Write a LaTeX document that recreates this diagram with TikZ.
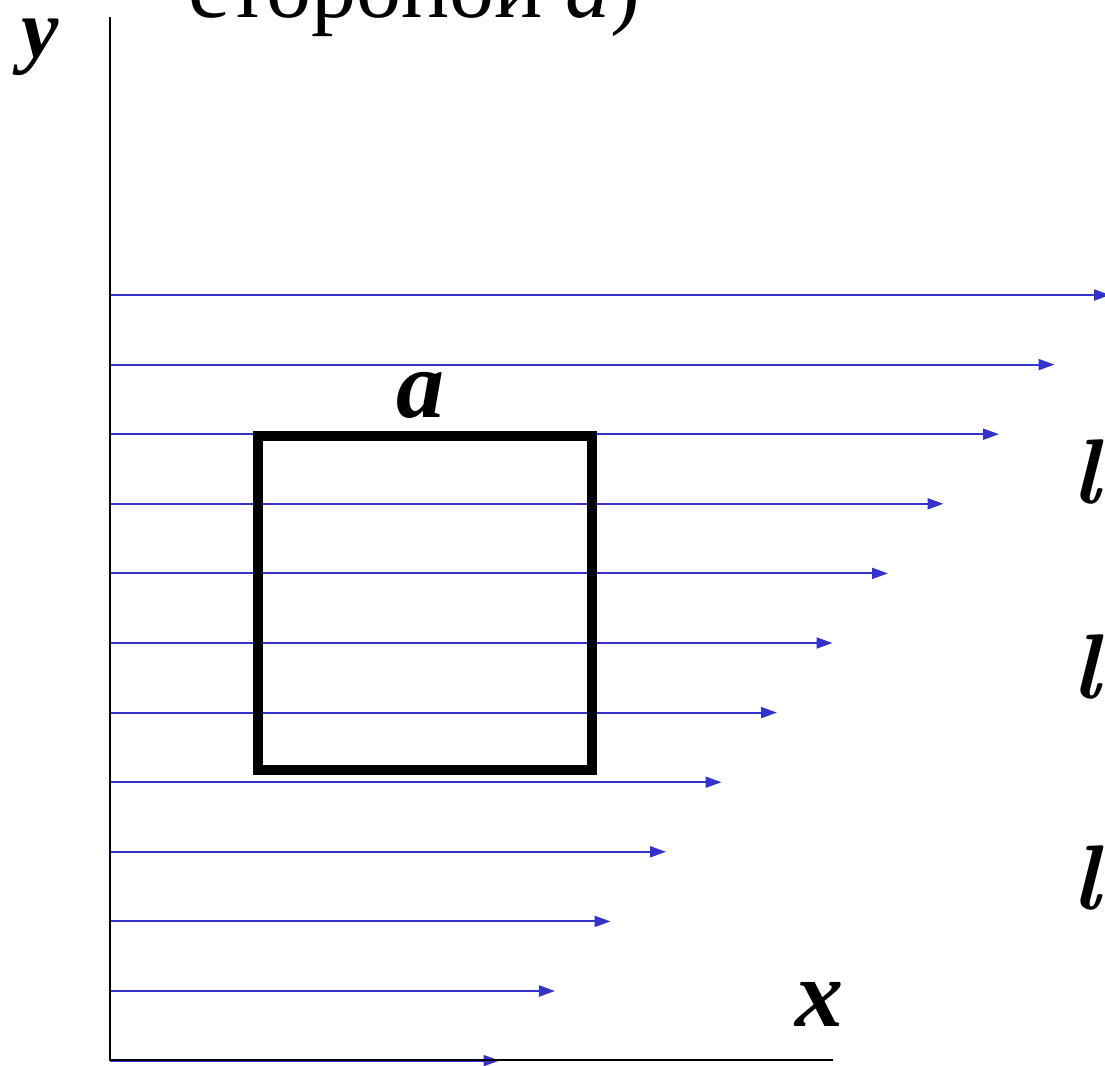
\documentclass[tikz,border=0pt]{standalone}
\usepackage{fontspec}
\setmainfont{Liberation Serif}
\newfontfamily\lmfont{Latin Modern Roman}
\usetikzlibrary{arrows.meta}
\definecolor{fieldblue}{RGB}{51,51,204}
\begin{document}
\begin{tikzpicture}[x=1pt,y=-1pt,
  fieldline/.style={draw=fieldblue, line width=2pt, -{Triangle[length=16pt,width=11pt]}},
  axisline/.style={draw=black, line width=2pt},
  framebox/.style={draw=black, line width=10pt},
  lbl/.style={inner sep=0pt, anchor=base, font=\fontsize{96}{110}\selectfont\bfseries\itshape},
  llbl/.style={inner sep=0pt, anchor=base west, font=\fontsize{92}{110}\selectfont\lmfont\bfseries\itshape},
  titletext/.style={inner sep=0pt, anchor=base west, font=\fontsize{90}{100}\selectfont}]
\useasboundingbox (0,0) rectangle (1105,1065);
% field lines
\foreach \i in {0,...,11} {
  \coordinate (s\i) at (110, {295+69.6*\i});
  \coordinate (e\i) at ({1110-55.5*\i}, {295+69.6*\i});
  \draw[fieldline] (s\i) -- (e\i);
}
% axes
\coordinate (O) at (110,1060);
\coordinate (ytop) at (110,17);
\coordinate (xend) at (833,1060);
\draw[axisline] (ytop) -- (O) -- (xend);
% square frame
\coordinate (sq1) at (258,436);
\coordinate (sq2) at (592,770);
\draw[framebox] (sq1) rectangle (sq2);
% labels
\node[lbl] (la) at (420,417) {a};
\node[lbl] (lx) at (819,1026) {x};
\node[lbl, font=\fontsize{84}{100}\selectfont\bfseries\itshape] (ly) at (40,57) {y};
\node[llbl] (l1) at (1072,503) {l};
\node[llbl] (l2) at (1072,698) {l};
\node[llbl] (l3) at (1072,909) {l};
\node[titletext] (title) at (188,18) {стороной \textit{a})};
\end{tikzpicture}
\end{document}
